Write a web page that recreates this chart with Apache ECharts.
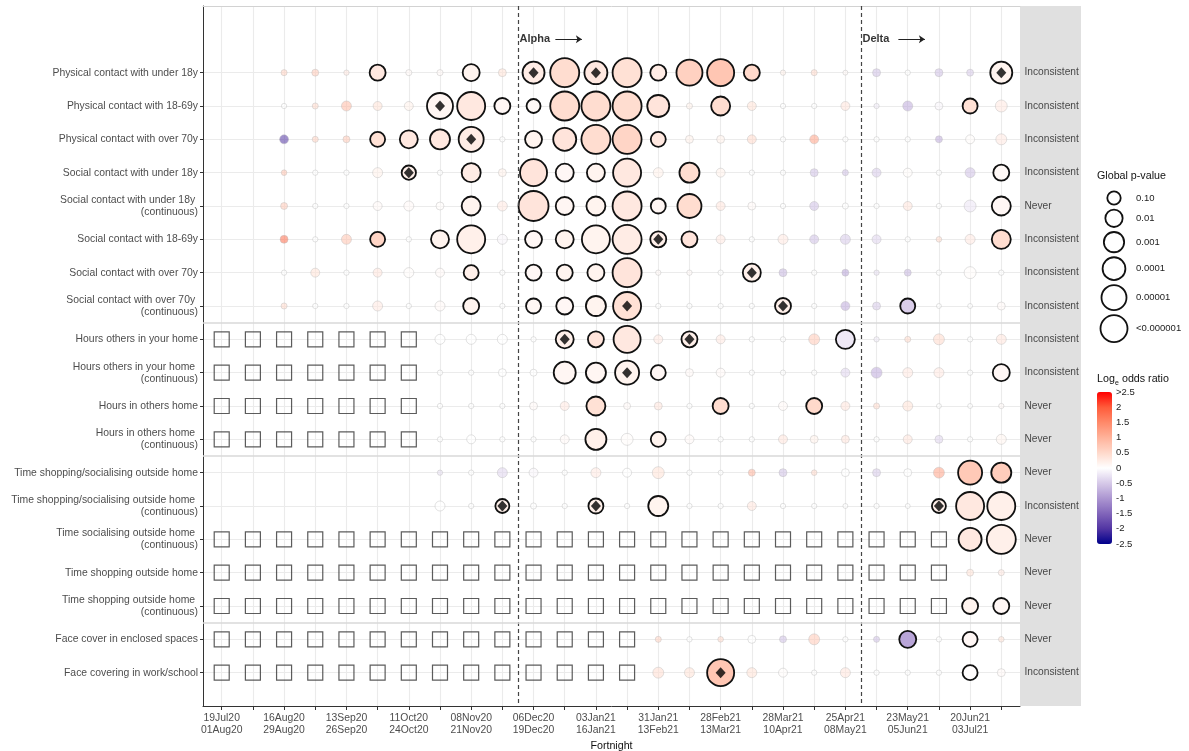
<!DOCTYPE html>
<html>
<head>
<meta charset="utf-8">
<script src="https://cdn.jsdelivr.net/npm/echarts@6/dist/echarts.min.js"></script>
<style>
  html, body { margin: 0; padding: 0; background: #fff; }
  #chart { width: 1189px; height: 751px; }
</style>
</head>
<body>
<div id="chart"></div>
<script>
const FONT = '"Liberation Sans", Arial, sans-serif';
const _ = null;

const rowLabels = [
  "Physical contact with under 18y",
  "Physical contact with 18-69y",
  "Physical contact with over 70y",
  "Social contact with under 18y",
  "Social contact with under 18y \n(continuous)",
  "Social contact with 18-69y",
  "Social contact with over 70y",
  "Social contact with over 70y \n(continuous)",
  "Hours others in your home",
  "Hours others in your home \n(continuous)",
  "Hours in others home",
  "Hours in others home \n(continuous)",
  "Time shopping/socialising outside home",
  "Time shopping/socialising outside home \n(continuous)",
  "Time socialising outside home \n(continuous)",
  "Time shopping outside home",
  "Time shopping outside home \n(continuous)",
  "Face cover in enclosed spaces",
  "Face covering in work/school"
];

const stripLabels = [
  "Inconsistent", "Inconsistent", "Inconsistent", "Inconsistent", "Never",
  "Inconsistent", "Inconsistent", "Inconsistent", "Inconsistent", "Inconsistent",
  "Never", "Never", "Never", "Inconsistent", "Never", "Never", "Never", "Never",
  "Inconsistent"
];

// labels for every second fortnight (columns 0, 2, ..., 24)
const tickLabels = [
  "19Jul20\n01Aug20", "16Aug20\n29Aug20", "13Sep20\n26Sep20", "11Oct20\n24Oct20",
  "08Nov20\n21Nov20", "06Dec20\n19Dec20", "03Jan21\n16Jan21", "31Jan21\n13Feb21",
  "28Feb21\n13Mar21", "28Mar21\n10Apr21", "25Apr21\n08May21", "23May21\n05Jun21",
  "20Jun21\n03Jul21"
];
const nCols = 26;

const variants = ["Alpha", "Delta"];
const variantCols = [9.5, 20.5];

// -log10(global p-value) per row / fortnight
const pvals = [
  [_,_,0.05,0.1,0.02,1.63,0.05,0.05,1.91,0.18,3.67,7.07,4.09,7.07,1.63,5.48,5.99,1.63,0.02,0.05,0.01,0.18,0.02,0.18,0.1,3.67],
  [_,_,0.02,0.05,0.41,0.28,0.28,5.48,6.52,1.63,1.13,7.07,7.07,7.07,3.67,0.05,2.55,0.28,0.02,0.02,0.28,0.02,0.41,0.18,1.37,0.72],
  [_,_,0.28,0.05,0.1,1.37,2.22,2.9,4.99,0.02,1.91,4.09,7.07,7.07,1.37,0.18,0.18,0.28,0.02,0.28,0.02,0.02,0.02,0.1,0.28,0.55],
  [_,_,0.03,0.02,0.02,0.41,1.2,0.02,2.55,0.18,5.99,2.22,2.22,6.52,0.41,2.9,0.28,0.02,0.02,0.18,0.05,0.28,0.28,0.02,0.41,1.63],
  [_,_,0.1,0.02,0.02,0.28,0.41,0.18,2.55,0.41,7.65,2.22,2.55,7.07,1.37,4.53,0.28,0.18,0.02,0.28,0.05,0.02,0.28,0.02,0.72,2.55],
  [_,_,0.18,0.02,0.41,1.37,0.02,2.22,6.52,0.41,1.91,2.22,6.52,7.07,1.63,1.63,0.28,0.02,0.41,0.28,0.41,0.28,0.02,0.03,0.41,2.55],
  [_,_,0.02,0.28,0.02,0.28,0.41,0.28,1.37,0.02,1.63,1.63,1.91,7.07,0.02,0.02,0.02,2.22,0.18,0.02,0.1,0.02,0.1,0.02,0.72,0.02],
  [_,_,0.05,0.02,0.02,0.41,0.02,0.41,1.63,0.02,1.37,1.91,2.9,6.52,0.02,0.02,0.02,0.02,1.63,0.02,0.28,0.18,1.37,0.01,0.01,0.18],
  [_,_,_,_,_,_,_,0.41,0.41,0.41,0.02,2.22,1.63,5.99,0.28,1.63,0.28,0.02,0.02,0.55,2.55,0.02,0.05,0.55,0.02,0.41],
  [_,_,_,_,_,_,_,0.02,0.02,0.18,0.1,3.67,2.9,4.53,1.37,0.18,0.28,0.02,0.02,0.02,0.28,0.55,0.41,0.41,0.02,1.91],
  [_,_,_,_,_,_,_,0.02,0.02,0.02,0.18,0.28,2.55,0.1,0.18,0.02,1.63,0.02,0.28,1.63,0.28,0.05,0.41,0.01,0.01,0.02],
  [_,_,_,_,_,_,_,0.02,0.28,0.02,0.02,0.28,3.27,0.72,1.37,0.28,0.02,0.02,0.28,0.18,0.18,0.02,0.28,0.18,0.02,0.41],
  [_,_,_,_,_,_,_,0.02,0.02,0.41,0.28,0.02,0.41,0.28,0.72,0.02,0.01,0.1,0.18,0.03,0.18,0.18,0.18,0.55,4.53,2.9],
  [_,_,_,_,_,_,_,0.41,0.02,1.13,0.05,0.02,1.37,0.02,2.9,0.02,0.02,0.28,0.02,0.02,0.01,0.02,0.01,1.13,6.52,6.52],
  [_,_,_,_,_,_,_,_,_,_,_,_,_,_,_,_,_,_,_,_,_,_,_,_,4.09,7.07],
  [_,_,_,_,_,_,_,_,_,_,_,_,_,_,_,_,_,_,_,_,_,_,_,_,0.1,0.05],
  [_,_,_,_,_,_,_,_,_,_,_,_,_,_,_,_,_,_,_,_,_,_,_,_,1.63,1.63],
  [_,_,_,_,_,_,_,_,_,_,_,_,_,_,0.05,0.02,0.03,0.18,0.1,0.55,0.02,0.05,1.91,0.02,1.37,0.03],
  [_,_,_,_,_,_,_,_,_,_,_,_,_,_,0.55,0.41,5.99,0.41,0.28,0.02,0.41,0.02,0.02,0.02,1.37,0.18]
];

// log odds ratio per row / fortnight
const logOR = [
  [_,_,0.6,0.7,0.3,0.3,0.1,0.1,0.15,0.4,0.25,0.45,0.3,0.4,0.25,0.6,0.75,0.5,0.2,0.5,0.1,-0.6,0,-0.6,-0.5,0.15],
  [_,_,0,0.5,0.9,0.4,0.2,0.12,0.3,0.1,0.08,0.45,0.45,0.45,0.35,0.2,0.45,0.4,0,0,0.35,-0.2,-0.8,-0.1,0.4,0.3],
  [_,_,-2.0,0.6,0.7,0.4,0.3,0.3,0.25,0,0.15,0.35,0.45,0.55,0.3,0.2,0.2,0.5,0,1.2,0,0,0,-0.8,0.05,0.3],
  [_,_,0.8,0,0,0.2,0.2,0,0.25,0.2,0.35,0.1,0.15,0.3,0.2,0.45,0.2,0,0,-0.6,-0.6,-0.5,0.05,0,-0.6,0.08],
  [_,_,0.7,0,0,0.1,0.1,0.05,0.15,0.3,0.35,0.12,0.15,0.3,0.12,0.45,0.35,0.1,0,-0.6,0,0,0.35,0,-0.25,0.1],
  [_,_,1.8,0,0.8,0.55,0,0.15,0.2,-0.1,0.1,0.15,0.15,0.25,0.2,0.35,0.3,0,0.3,-0.6,-0.5,-0.4,0,0.5,0.3,0.45],
  [_,_,0,0.4,0,0.35,0.05,0.1,0.2,0,0.1,0.15,0.15,0.35,0.1,0.1,0,0.2,-0.7,0,-0.9,-0.3,-0.7,0,0.05,0],
  [_,_,0.5,0,0,0.3,0,0.1,0.15,0,0.1,0.1,0.15,0.4,0,0,0,0,0.2,0,-0.8,-0.5,-0.45,0,0,0.1],
  [_,_,_,_,_,_,_,0,0,0,0,0.2,0.35,0.3,0.3,0.2,0.3,0,0,0.7,-0.2,-0.2,0.5,0.5,0,0.35],
  [_,_,_,_,_,_,_,0,0,0,0,0.12,0.12,0.15,0.1,0.1,0.1,0,0,0,-0.4,-0.8,0.3,0.3,0,0.1],
  [_,_,_,_,_,_,_,0,0,0,0.1,0.3,0.4,0.1,0.35,0,0.45,0,0.1,0.5,0.35,0.5,0.4,0,0,0.1],
  [_,_,_,_,_,_,_,0,0,0,0,0.1,0.2,0.05,0.15,0.1,0,0,0.35,0.2,0.35,0,0.35,-0.4,0,0.15],
  [_,_,_,_,_,_,_,-0.3,0,-0.4,-0.1,0,0.3,0,0.4,0,0,1.0,-0.6,0.5,0,-0.5,0,1.2,0.7,0.65],
  [_,_,_,_,_,_,_,0,0,0.2,0,0,0.2,0,0.15,0,0,0.35,0,0,0,0,0,0.2,0.3,0.2],
  [_,_,_,_,_,_,_,_,_,_,_,_,_,_,_,_,_,_,_,_,_,_,_,_,0.3,0.2],
  [_,_,_,_,_,_,_,_,_,_,_,_,_,_,_,_,_,_,_,_,_,_,_,_,0.4,0.3],
  [_,_,_,_,_,_,_,_,_,_,_,_,_,_,_,_,_,_,_,_,_,_,_,_,0.15,0.1],
  [_,_,_,_,_,_,_,_,_,_,_,_,_,_,0.6,0,0.5,0,-0.6,0.7,0,-0.6,-0.85,0,0.1,0.4],
  [_,_,_,_,_,_,_,_,_,_,_,_,_,_,0.45,0.4,0.75,0.4,0.05,0,0.35,0,0,0,0.02,0.1]
];

// change points [row, col]
const diamonds = [
  [0,10],[0,12],[0,25],[1,7],[2,8],[3,6],[5,14],[6,17],[7,13],[7,18],
  [8,11],[8,15],[9,13],[13,9],[13,12],[13,23],[18,16]
];

// question not asked: [row, first col, last col]
const notAsked = [
  [8,0,6],[9,0,6],[10,0,6],[11,0,6],[14,0,23],[15,0,23],[16,0,23],[17,0,13],[18,0,13]
];

const pLegendVals = [1, 2, 3, 4, 5, 6];
const pLegendText = ["0.10", "0.01", "0.001", "0.0001", "0.00001", "<0.000001"];
const orTicks = [2.5, 2, 1.5, 1, 0.5, 0, -0.5, -1, -1.5, -2, -2.5];
const orTickText = [">2.5", "2", "1.5", "1", "0.5", "0", "-0.5", "-1", "-1.5", "-2", "-2.5"];
const orColors = ['#00008B','#5235A3','#8165BA','#AC96D1','#D6C9E8','#FFFFFF',
                  '#FFD9CB','#FFB29A','#FF8969','#FF5B3A','#FF0000'];

const sizeOf = m => 4 + 9.4 * Math.sqrt(Math.max(m, 0));

const sigData = [], nsData = [], sqData = [];
pvals.forEach((row, r) => row.forEach((m, c) => {
  if (m === null) return;
  const item = [c, r, logOR[r][c], m];
  (m >= 1 ? sigData : nsData).push(item);
}));
notAsked.forEach(([r, a, b]) => { for (let c = a; c <= b; c++) sqData.push([c, r]); });
const diaData = diamonds.map(([r, c]) => [c, r]);

const rowIdx = rowLabels.map((_, i) => i);
const colIdx = Array.from({ length: nCols }, (_, i) => i);
const labelCols = tickLabels.map((_, i) => i * 2);

// legend graphics
const graphics = [];
graphics.push({ type: 'text', x: 1097, y: 176, style: {
  text: 'Global p-value', font: '10.7px ' + FONT, fill: '#111', verticalAlign: 'middle' } });
let cy = 198, prevD = null;
pLegendVals.forEach((m, i) => {
  const d = sizeOf(m);
  if (prevD !== null) cy += (prevD + d) / 2 + 5;
  prevD = d;
  graphics.push({ type: 'circle', shape: { cx: 1114, cy: cy, r: d / 2 },
    style: { fill: 'none', stroke: '#111', lineWidth: 1.8 } });
  graphics.push({ type: 'text', x: 1136, y: cy, style: {
    text: pLegendText[i], font: '9.5px ' + FONT, fill: '#222', verticalAlign: 'middle' } });
});
// "Log_e odds ratio" title with subscript e
graphics.push({ type: 'text', x: 1097, y: 379, style: {
  text: 'Log', font: '10.7px ' + FONT, fill: '#111', verticalAlign: 'middle' } });
graphics.push({ type: 'text', x: 1115, y: 383, style: {
  text: 'e', font: '7px ' + FONT, fill: '#111', verticalAlign: 'middle' } });
graphics.push({ type: 'text', x: 1119, y: 379, style: {
  text: ' odds ratio', font: '10.7px ' + FONT, fill: '#111', verticalAlign: 'middle' } });
orTicks.forEach((v, i) => {
  graphics.push({ type: 'text', x: 1116, y: 468 - v * 30.4, style: {
    text: orTickText[i], font: '9.5px ' + FONT, fill: '#222', verticalAlign: 'middle' } });
});

const option = {
  animation: false,
  backgroundColor: '#fff',
  grid: [
    { left: 203, right: 169, top: 6, bottom: 45, outerBoundsMode: 'none', containLabel: false },
    { left: 1020, width: 61, top: 6, bottom: 45, outerBoundsMode: 'none', containLabel: false,
      show: true, backgroundColor: '#e0e0e0', borderWidth: 0 }
  ],
  xAxis: [
    {
      type: 'value', gridIndex: 0, min: -0.6, max: 25.6,
      axisLine: { onZero: false, lineStyle: { color: '#333', width: 1 } },
      axisTick: { customValues: colIdx, length: 4, lineStyle: { color: '#333' } },
      axisLabel: { customValues: labelCols, formatter: v => tickLabels[v / 2],
        color: '#4d4d4d', fontSize: 10.4, lineHeight: 12, margin: 6, fontFamily: FONT },
      splitLine: { show: true, lineStyle: { color: '#ebebeb', width: 1.1 } },
      name: 'Fortnight', nameLocation: 'middle', nameGap: 31,
      nameTextStyle: { color: '#111', fontSize: 10.7, fontFamily: FONT }
    },
    { type: 'value', gridIndex: 1, min: 0, max: 1, show: false },
    { type: 'value', gridIndex: 0, position: 'top', min: -0.6, max: 25.6,
      axisLine: { show: true, onZero: false, lineStyle: { color: '#d2d2d2', width: 1 } },
      axisTick: { show: false }, axisLabel: { show: false }, splitLine: { show: false } }
  ],
  yAxis: [
    {
      type: 'value', gridIndex: 0, inverse: true, min: -2, max: 19,
      axisLine: { show: true, onZero: false, lineStyle: { color: '#333', width: 1 } },
      axisTick: { show: true, customValues: rowIdx, length: 3, lineStyle: { color: '#333' } },
      axisLabel: { customValues: rowIdx, formatter: v => rowLabels[v],
        color: '#4d4d4d', fontSize: 10.4, lineHeight: 12, margin: 5, fontFamily: FONT, align: 'right' },
      splitLine: { show: true, lineStyle: { color: '#ebebeb', width: 1.1 } }
    },
    { type: 'value', gridIndex: 1, inverse: true, min: -2, max: 19, show: false }
  ],
  visualMap: {
    type: 'continuous', min: -2.5, max: 2.5, dimension: 2, seriesIndex: [0, 1],
    calculable: false, hoverLink: false, orient: 'vertical',
    left: 1092, top: 387, itemWidth: 15, itemHeight: 152, padding: 5,
    inRange: { color: orColors }
  },
  graphic: graphics,
  series: [
    {
      name: 'significant', type: 'scatter', xAxisIndex: 0, yAxisIndex: 0, z: 4,
      data: sigData, symbol: 'circle', symbolSize: v => sizeOf(v[3]),
      itemStyle: { borderColor: '#111', borderWidth: 1.8, opacity: 1 },
      emphasis: { disabled: true }
    },
    {
      name: 'not significant', type: 'scatter', xAxisIndex: 0, yAxisIndex: 0, z: 3,
      data: nsData, symbol: 'circle', symbolSize: v => sizeOf(v[3]),
      itemStyle: { borderColor: '#bdbdbd', borderWidth: 0.8, opacity: 0.55 },
      emphasis: { disabled: true },
      markLine: {
        silent: true, symbol: 'none', label: { show: false },
        lineStyle: { color: '#444', width: 1.2, type: [4, 3] },
        data: variantCols.map(x => ({ xAxis: x }))
      }
    },
    {
      name: 'not asked', type: 'scatter', xAxisIndex: 0, yAxisIndex: 0, z: 3,
      data: sqData, symbol: 'rect', symbolSize: 15,
      itemStyle: { color: 'rgba(0,0,0,0)', borderColor: '#333', borderWidth: 1.2 },
      emphasis: { disabled: true },
      markLine: {
        silent: true, symbol: 'none', label: { show: false },
        lineStyle: { color: '#d9d9d9', width: 1.6, type: 'solid' },
        data: [{ yAxis: 7.5 }, { yAxis: 11.5 }, { yAxis: 16.5 }]
      }
    },
    {
      name: 'change point', type: 'scatter', xAxisIndex: 0, yAxisIndex: 0, z: 6,
      data: diaData, symbol: 'diamond', symbolSize: [10, 11],
      itemStyle: { color: '#000' }, emphasis: { disabled: true }
    },
    {
      name: 'variants', type: 'scatter', xAxisIndex: 0, yAxisIndex: 0, z: 6,
      data: variantCols.map((x, i) => [x, -1, variants[i]]),
      symbolSize: 1, itemStyle: { color: 'rgba(0,0,0,0)' },
      label: { show: true, position: 'right', distance: 1, formatter: p => p.value[2],
        fontWeight: 'bold', fontSize: 11, color: '#000', fontFamily: FONT },
      emphasis: { disabled: true },
      markLine: {
        silent: true, symbol: ['none', 'arrow'], symbolSize: 6, label: { show: false },
        lineStyle: { color: '#222', width: 1, type: 'solid' },
        data: variantCols.map(x => [{ coord: [x + 1.2, -1] }, { coord: [x + 2.05, -1] }])
      }
    },
    {
      name: 'strip', type: 'scatter', xAxisIndex: 1, yAxisIndex: 1,
      data: stripLabels.map((s, i) => [0, i, s]),
      symbolSize: 1, itemStyle: { color: 'rgba(0,0,0,0)' },
      label: { show: true, position: 'right', distance: 4, formatter: p => p.value[2],
        fontSize: 10.2, color: '#1a1a1a', fontFamily: FONT },
      emphasis: { disabled: true }
    }
  ]
};

const chart = echarts.init(document.getElementById('chart'));
chart.setOption(option);
window.addEventListener('resize', () => chart.resize());
</script>
</body>
</html>
